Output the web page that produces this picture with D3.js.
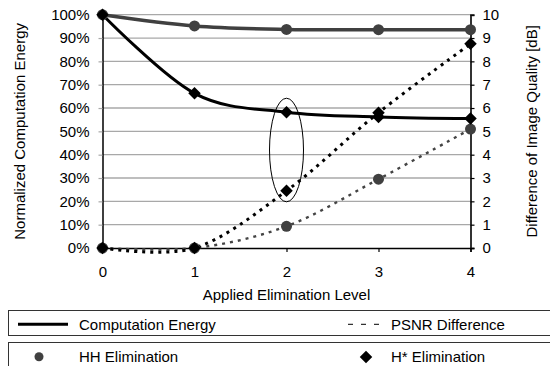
<!DOCTYPE html>
<html lang="en">
<head>
<meta charset="UTF-8">
<title>Elimination Level</title>
<style>
  body { margin: 0; background: #fff; }
  svg { display: block; font-family: "Liberation Sans", Arial, sans-serif; }
  .grid line { stroke: #a8a8a8; stroke-width: 1.3; }
  .tick text { font-size: 15px; fill: #000; font-family: "Liberation Sans", Arial, sans-serif; }
</style>
<script src="https://d3js.org/d3.v7.min.js"></script>
</head>
<body>
<svg width="550" height="366"></svg>
<script>
// data
var levels = [0, 1, 2, 3, 4];
var energyHH = [100, 95.2, 93.7, 93.6, 93.6];
var energyHstar = [100, 66.3, 58.2, 56.2, 55.5];
var psnrHH = [0, 0, 0.93, 2.95, 5.1];
var psnrHstar = [0, 0, 2.45, 5.8, 8.75];
var leftTicks = [0, 10, 20, 30, 40, 50, 60, 70, 80, 90, 100];
var rightTicks = [0, 1, 2, 3, 4, 5, 6, 7, 8, 9, 10];

var svg = d3.select("svg");
var margin = { left: 102.5, right: 79.5, top: 14.7, bottom: 118 };
var width = 550 - margin.left - margin.right,
    height = 366 - margin.top - margin.bottom;

var g = svg.append("g").attr("transform", "translate(" + margin.left + "," + margin.top + ")");

var x = d3.scaleLinear().domain([0, 4]).range([0, width]);
var yL = d3.scaleLinear().domain([0, 100]).range([height, 0]);
var yR = d3.scaleLinear().domain([0, 10]).range([height, 0]);

// gridlines
g.append("g").attr("class", "grid")
  .selectAll("line").data(leftTicks.slice(1)).enter().append("line")
  .attr("x1", 0).attr("x2", width)
  .attr("y1", function (d) { return yL(d); })
  .attr("y2", function (d) { return yL(d); });

// axes
var axL = g.append("g")
  .call(d3.axisLeft(yL).tickValues(leftTicks).tickSize(4).tickPadding(9)
    .tickFormat(function (d) { return d + "%"; }));
var axR = g.append("g").attr("transform", "translate(" + width + ",0)")
  .call(d3.axisRight(yR).tickValues(rightTicks).tickSize(4).tickPadding(8));
var axB = g.append("g").attr("transform", "translate(0," + height + ")")
  .call(d3.axisBottom(x).tickValues(levels).tickSize(4).tickPadding(14).tickFormat(d3.format("d")));

[axL, axR, axB].forEach(function (a) {
  a.select(".domain").attr("stroke", "#000").attr("stroke-width", 1.5);
  a.selectAll(".tick line").attr("stroke", "#000").attr("stroke-width", 1.2);
});
axR.select(".domain").attr("stroke", "#333").attr("stroke-width", 2);
axL.selectAll(".tick line").attr("stroke", "#a8a8a8");

// axis titles
svg.append("text")
  .attr("transform", "translate(25," + (margin.top + height / 2) + ") rotate(-90)")
  .attr("text-anchor", "middle").style("font-size", "15px")
  .text("Normalized Computation Energy");
svg.append("text")
  .attr("transform", "translate(537," + (margin.top + height / 2) + ") rotate(-90)")
  .attr("text-anchor", "middle").style("font-size", "15px")
  .text("Difference of Image Quality [dB]");
svg.append("text")
  .attr("x", margin.left + width / 2).attr("y", 300)
  .attr("text-anchor", "middle").style("font-size", "15px")
  .text("Applied Elimination Level");

var curve = d3.curveCardinal.tension(0);
var lineL = d3.line().x(function (d, i) { return x(levels[i]); }).y(function (d) { return yL(d); }).curve(curve);
var lineR = d3.line().x(function (d, i) { return x(levels[i]); }).y(function (d) { return yR(d); }).curve(curve);

// PSNR dotted lines
g.append("path").datum(psnrHH).attr("d", lineR)
  .attr("fill", "none").attr("stroke", "#444").attr("stroke-width", 2.4)
  .attr("stroke-dasharray", "3,5");
g.append("path").datum(psnrHstar).attr("d", lineR)
  .attr("fill", "none").attr("stroke", "#000").attr("stroke-width", 3)
  .attr("stroke-dasharray", "3,5");

// energy solid lines
g.append("path").datum(energyHH).attr("d", lineL)
  .attr("fill", "none").attr("stroke", "#404040").attr("stroke-width", 3.5);
g.append("path").datum(energyHstar).attr("d", lineL)
  .attr("fill", "none").attr("stroke", "#000").attr("stroke-width", 3);

// markers
var diamond = d3.symbol().type(d3.symbolDiamond2).size(100);
function circles(data, scale) {
  g.append("g").selectAll("circle").data(data).enter().append("circle")
    .attr("cx", function (d, i) { return x(levels[i]); })
    .attr("cy", function (d) { return scale(d); })
    .attr("r", 5.5).attr("fill", "#404040");
}
function diamonds(data, scale) {
  g.append("g").selectAll("path").data(data).enter().append("path")
    .attr("d", diamond)
    .attr("transform", function (d, i) { return "translate(" + x(levels[i]) + "," + scale(d) + ")"; })
    .attr("fill", "#000");
}
circles(psnrHH, yR);
diamonds(psnrHstar, yR);
circles(energyHH, yL);
diamonds(energyHstar, yL);

// ellipse around level 2
var eTop = 64.2, eBottom = 19.8;
g.append("ellipse")
  .attr("cx", x(2)).attr("cy", (yL(eTop) + yL(eBottom)) / 2)
  .attr("rx", 17).attr("ry", (yL(eBottom) - yL(eTop)) / 2)
  .attr("fill", "none").attr("stroke", "#000").attr("stroke-width", 1);

// legend boxes
var lg = svg.append("g");
lg.append("rect").attr("x", 8.5).attr("y", 310.5).attr("width", 545).attr("height", 25)
  .attr("fill", "none").attr("stroke", "#333").attr("stroke-width", 1);
lg.append("rect").attr("x", 8.5).attr("y", 342.5).attr("width", 545).attr("height", 30)
  .attr("fill", "none").attr("stroke", "#333").attr("stroke-width", 1);

lg.append("line").attr("x1", 18).attr("x2", 68).attr("y1", 324.3).attr("y2", 324.3)
  .attr("stroke", "#000").attr("stroke-width", 3);
lg.append("text").attr("x", 79).attr("y", 329.5).style("font-size", "15px").text("Computation Energy");
lg.append("line").attr("x1", 348).attr("x2", 380).attr("y1", 324.3).attr("y2", 324.3)
  .attr("stroke", "#333").attr("stroke-width", 1.3).attr("stroke-dasharray", "5,8");
lg.append("text").attr("x", 391).attr("y", 329.5).style("font-size", "15px").text("PSNR Difference");

lg.append("circle").attr("cx", 39).attr("cy", 356.7).attr("r", 4.5).attr("fill", "#404040");
lg.append("text").attr("x", 79).attr("y", 362).style("font-size", "15px").text("HH Elimination");
lg.append("path").attr("d", diamond).attr("transform", "translate(366,357)").attr("fill", "#000");
lg.append("text").attr("x", 391).attr("y", 362).style("font-size", "15px").text("H* Elimination");
</script>
</body>
</html>
